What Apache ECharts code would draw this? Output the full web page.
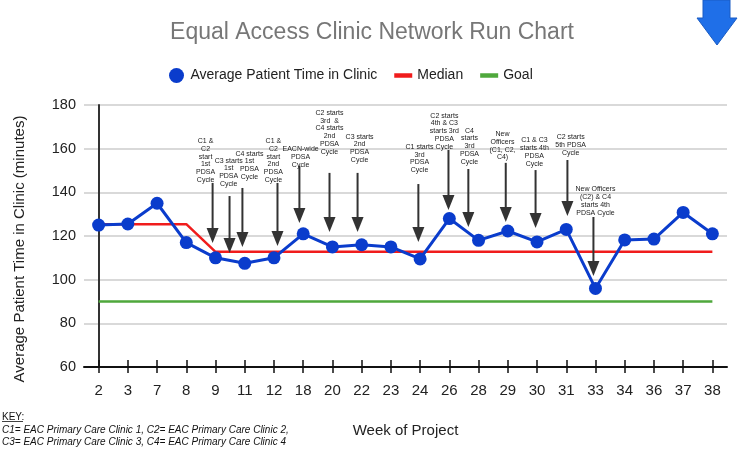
<!DOCTYPE html>
<html>
<head>
<meta charset="utf-8">
<script src="https://cdn.jsdelivr.net/npm/echarts@6/dist/echarts.min.js"></script>
<style>
html,body{margin:0;padding:0;background:#fff;}
#chart{width:744px;height:454px;}
</style>
</head>
<body>
<div id="chart"></div>
<script>
// ---- data ----
const weeks = ['2','3','7','8','9','11','12','18','20','22','23','24','26','28','29','30','31','33','34','36','37','38'];
const avgTime = [125, 125.5, 135, 117, 110, 107.5, 110, 121, 115, 116, 115, 109.5, 128, 118, 122.3, 117.3, 123, 96, 118.2, 118.6, 130.8, 121];
const medianVals = [125.4, 125.4, 125.4, 125.4, 112.75, 112.75, 112.75, 112.75, 112.75, 112.75, 112.75, 112.75, 112.75, 112.75, 112.75, 112.75, 112.75, 112.75, 112.75, 112.75, 112.75, 112.75];
const goalVals = [90, 90, 90, 90, 90, 90, 90, 90, 90, 90, 90, 90, 90, 90, 90, 90, 90, 90, 90, 90, 90, 90];
const yTicks = {min: 60, max: 180, interval: 20};

// annotations (category-index anchors and value levels)
const annotationTexts = [
  'C1 &\nC2\nstart\n1st\nPDSA\nCycle',
  'C3 starts\n1st\nPDSA\nCycle',
  'C4 starts\n1st\nPDSA\nCycle',
  'C1 &\nC2\nstart\n2nd\nPDSA\nCycle',
  'EACN-wide\nPDSA\nCycle',
  'C2 starts\n3rd  &\nC4 starts\n2nd\nPDSA\nCycle',
  'C3 starts\n2nd\nPDSA\nCycle',
  'C1 starts\n3rd\nPDSA\nCycle',
  'C2 starts\n4th & C3\nstarts 3rd\nPDSA\nCycle',
  'C4\nstarts\n3rd\nPDSA\nCycle',
  'New\nOfficers\n(C1, C2,\nC4)',
  'C1 & C3\nstarts 4th\nPDSA\nCycle',
  'C2 starts\n5th PDSA\nCycle',
  'New Officers\n(C2) & C4\nstarts 4th\nPDSA Cycle'
];
const annotationAt      = [3.9, 4.48, 4.92, 6.12, 6.87, 7.9, 8.86, 10.94, 11.97, 12.65, 13.93, 14.95, 16.04, 16.93];
const annotationTip     = [116.8, 112.2, 115, 115.4, 126, 121.8, 121.8, 117.3, 131.9, 124.1, 126.4, 123.7, 129.2, 101.7];
const annotationTail    = [144.3, 138.3, 142, 144.3, 152.1, 148.9, 148.9, 143.8, 159.4, 150.7, 153.5, 150.2, 154.8, 128.7];
const annotationLabelAt = [3.66, 4.45, 5.16, 5.98, 6.91, 7.9, 8.93, 10.98, 11.83, 12.69, 13.82, 14.91, 16.15, 17.0];
const annotationLabelY  = [145.7, 143.8, 147, 145.7, 152.6, 158.6, 154.8, 150.2, 160.9, 154, 156, 153.2, 158, 130.6];

const annData = annotationTexts.map((t, i) => [annotationAt[i], annotationTip[i], annotationTail[i], annotationLabelAt[i], annotationLabelY[i], i]);

const FONT = '"Liberation Sans", Arial, sans-serif';
const chart = echarts.init(document.getElementById('chart'), null, {renderer: 'canvas'});

const option = {
  animation: false,
  backgroundColor: '#ffffff',
  title: {
    text: 'Equal Access Clinic Network Run Chart',
    left: 'center',
    top: 16,
    textStyle: {fontFamily: FONT, fontSize: 23, fontWeight: 'normal', color: '#777777'}
  },
  legend: {
    left: 164,
    top: 63,
    itemWidth: 18,
    itemHeight: 15,
    itemGap: 17,
    textStyle: {fontFamily: FONT, fontSize: 14, color: '#222'},
    data: [
      {name: 'Average Patient Time in Clinic', icon: 'circle'},
      {name: 'Median', icon: 'path://M0 0H16V4H0Z'},
      {name: 'Goal', icon: 'path://M0 0H16V4H0Z'}
    ]
  },
  grid: {left: 84, right: 17, top: 105, bottom: 87, containLabel: false},
  xAxis: [
    {
      type: 'category',
      data: weeks,
      boundaryGap: true,
      position: 'bottom',
      name: 'Week of Project',
      nameLocation: 'middle',
      nameGap: 56,
      nameTextStyle: {fontFamily: FONT, fontSize: 15, color: '#222'},
      axisLine: {show: true, lineStyle: {color: '#111', width: 2}},
      axisTick: {show: true, alignWithLabel: true, length: 6, lineStyle: {color: '#111', width: 1.5}},
      axisLabel: {fontFamily: FONT, fontSize: 15, color: '#222', margin: 16},
      splitLine: {show: false}
    },
    {
      type: 'category',
      data: weeks,
      boundaryGap: true,
      position: 'bottom',
      axisLine: {show: false},
      axisTick: {show: true, inside: true, alignWithLabel: true, length: 7, lineStyle: {color: '#111', width: 1.5}},
      axisLabel: {show: false},
      splitLine: {show: false}
    },
    {
      type: 'value',
      show: false,
      min: -0.5,
      max: weeks.length - 0.5
    }
  ],
  yAxis: {
    type: 'value',
    min: yTicks.min,
    max: yTicks.max,
    interval: yTicks.interval,
    axisLine: {show: true, lineStyle: {color: '#333', width: 2}},
    axisTick: {show: false},
    axisLabel: {fontFamily: FONT, fontSize: 14.5, color: '#222', margin: 8},
    splitLine: {show: true, lineStyle: {color: '#cccccc', width: 1.5}}
  },
  graphic: [
    {
      type: 'text',
      x: 20, y: 249,
      rotation: Math.PI / 2,
      style: {text: 'Average Patient Time in Clinic (minutes)', font: '15px ' + FONT, fill: '#222', align: 'center', verticalAlign: 'middle'}
    },
    {
      type: 'text', x: 2, y: 412,
      style: {text: 'KEY:', font: '10px ' + FONT, fill: '#111'}
    },
    {
      type: 'line', shape: {x1: 2, y1: 421.5, x2: 23, y2: 421.5}, style: {stroke: '#111', lineWidth: 0.8}
    },
    {
      type: 'text', x: 2, y: 424,
      style: {text: 'C1= EAC Primary Care Clinic 1, C2= EAC Primary Care Clinic 2,\nC3= EAC Primary Care Clinic 3, C4= EAC Primary Care Clinic 4', font: 'italic 10px ' + FONT, fill: '#111', lineHeight: 12}
    },
    {
      type: 'polygon',
      shape: {points: [[703, 0], [730, 0], [730, 18], [737, 18], [717, 45], [697, 18], [703, 18]]},
      style: {fill: '#1f6fe8', stroke: '#1a5cc4', lineWidth: 1}
    }
  ],
  series: [
    {
      name: 'Goal',
      type: 'line',
      data: goalVals,
      showSymbol: false,
      symbol: 'none',
      color: '#4fa83c',
      lineStyle: {color: '#4fa83c', width: 2.5},
      z: 2
    },
    {
      name: 'Median',
      type: 'line',
      data: medianVals,
      showSymbol: false,
      symbol: 'none',
      color: '#f01c1c',
      lineStyle: {color: '#f01c1c', width: 2.5},
      z: 3
    },
    {
      name: 'Average Patient Time in Clinic',
      type: 'line',
      data: avgTime,
      symbol: 'circle',
      symbolSize: 13,
      color: '#0a3ccc',
      itemStyle: {color: '#0a3ccc'},
      lineStyle: {color: '#0a3ccc', width: 3},
      z: 4
    },
    {
      name: 'annotations',
      type: 'custom',
      xAxisIndex: 2,
      yAxisIndex: 0,
      data: annData,
      encode: {x: 0, y: 1},
      z: 5,
      silent: true,
      renderItem: function (params, api) {
        const idx = api.value(5);
        const tip = api.coord([api.value(0), api.value(1)]);
        const tail = api.coord([api.value(0), api.value(2)]);
        const lab = api.coord([api.value(3), api.value(4)]);
        return {
          type: 'group',
          children: [
            {type: 'line', shape: {x1: tail[0], y1: tail[1], x2: tip[0], y2: tip[1] - 12}, style: {stroke: '#333', lineWidth: 2}},
            {type: 'polygon', shape: {points: [[tip[0] - 6, tip[1] - 15], [tip[0] + 6, tip[1] - 15], [tip[0], tip[1]]]}, style: {fill: '#333'}},
            {type: 'text', x: lab[0], y: lab[1] + 4, style: {text: annotationTexts[idx], font: '7px ' + FONT, fill: '#222', align: 'center', verticalAlign: 'bottom', lineHeight: 7.8}}
          ]
        };
      }
    }
  ]
};
chart.setOption(option);
</script>
</body>
</html>
